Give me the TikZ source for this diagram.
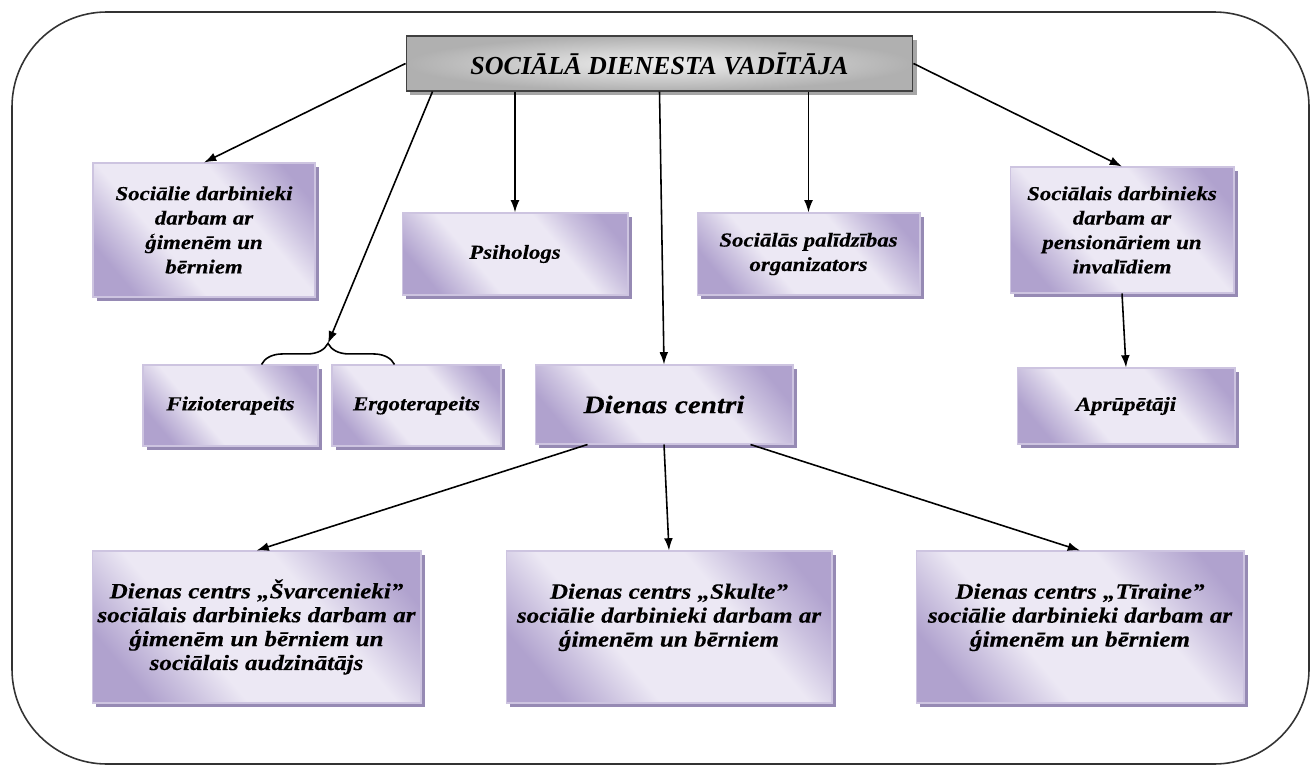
\documentclass[tikz,border=0pt]{standalone}
\usepackage{fontspec}
\setmainfont{Liberation Serif}
\newfontfamily\boxfont{Liberation Serif}[FakeStretch=1.15,FakeBold=0.3]
\usepackage{xcolor}
\usepackage{tikz}
\usetikzlibrary{calc,positioning,shadows,arrows.meta}
\usetikzlibrary{decorations.pathreplacing}

\definecolor{lilaLight}{RGB}{236,232,244}
\definecolor{lilaDark}{RGB}{176,162,206}
\definecolor{lilaBorder}{RGB}{205,196,224}
\definecolor{lilaShadow}{RGB}{150,138,180}
\colorlet{lilaMid}{lilaLight!45!lilaDark}

\pgfdeclarehorizontalshading{lilashade}{100bp}{color(0bp)=(lilaDark); color(24bp)=(lilaDark); color(31bp)=(lilaMid); color(39bp)=(lilaLight); color(62bp)=(lilaLight); color(70bp)=(lilaMid); color(78bp)=(lilaDark); color(100bp)=(lilaDark)}

\tikzset{
	box/.style={draw=lilaBorder, line width=0.6pt, inner sep=0pt, align=center,
		shading=lilashade, shading angle=40,
		drop shadow={shadow xshift=2.5pt, shadow yshift=-2.5pt, fill=lilaShadow, opacity=1},
		font=\boxfont\bfseries\itshape\fontsize{11.3}{13.9}\selectfont},
	bigbox/.style={box, font=\boxfont\bfseries\itshape\fontsize{12.4}{13.6}\selectfont},
	headbox/.style={draw=gray!50!black, line width=0.6pt, inner sep=0pt,
		inner color=gray!12, outer color=gray!62,
		drop shadow={shadow xshift=2.5pt, shadow yshift=-2.5pt, fill=gray!70, opacity=1},
		font=\bfseries\itshape\fontsize{14.8}{17}\selectfont},
	arr/.style={-{Latex[length=7pt,width=5pt]}, line width=0.9pt},
}

\begin{document}
\begin{tikzpicture}[x=0.02cm,y=-0.02cm]
	\useasboundingbox (0,0) rectangle (1314,767);
	\draw[rounded corners=54pt, line width=0.9pt, gray!40!black] (12,12) rectangle (1309,764);

	\node[headbox, minimum width=10.14cm, minimum height=1.1cm] (head) at (659.5,63.5) {SOCIĀLĀ DIENESTA VADĪTĀJA};

	\node[box, minimum width=4.44cm, minimum height=2.68cm] (soc) at (204,230) {Sociālie darbinieki\\ darbam ar\\ ģimenēm un\\ bērniem};
	\node[box, minimum width=4.52cm, minimum height=1.64cm] (psih) at (515,254) {Psihologs};
	\node[box, minimum width=4.46cm, minimum height=1.64cm] (org) at (808.5,254) {Sociālās palīdzības\\ organizators};
	\node[box, minimum width=4.48cm, minimum height=2.52cm] (pens) at (1122,230) {Sociālais darbinieks\\ darbam ar\\ pensionāriem un\\ invalīdiem};

	\node[box, minimum width=3.5cm, minimum height=1.62cm] (fizio) at (230.5,405.5) {Fizioterapeits};
	\node[box, minimum width=3.38cm, minimum height=1.62cm] (ergo) at (416.5,405.5) {Ergoterapeits};
	\node[box, minimum width=5.16cm, minimum height=1.58cm, font=\boxfont\bfseries\itshape\fontsize{14.4}{17}\selectfont] (dc) at (664,404.5) {Dienas centri};
	\node[box, minimum width=4.36cm, minimum height=1.52cm] (aprup) at (1126,406) {Aprūpētāji};

	\node[bigbox, minimum width=6.58cm, minimum height=3.04cm] (b1) at (256.5,627) {Dienas centrs „Švarcenieki”\\ sociālais darbinieks darbam ar\\ ģimenēm un bērniem un\\ sociālais audzinātājs};
	\node[bigbox, minimum width=6.52cm, minimum height=3.04cm] (b2) at (669,627) {Dienas centrs „Skulte”\\ sociālie darbinieki darbam ar\\ ģimenēm un bērniem\\ \mbox{}};
	\node[bigbox, minimum width=6.56cm, minimum height=3.04cm] (b3) at (1080,627) {Dienas centrs „Tīraine”\\ sociālie darbinieki darbam ar\\ ģimenēm un bērniem\\ \mbox{}};

	\coordinate (brL) at ($(fizio.north east)+(-57,0)$);
	\coordinate (brR) at ($(ergo.north west)+(63,0)$);
	\draw[line width=0.9pt, decorate, decoration={brace, amplitude=12pt}] (brL) -- (brR);
	\coordinate (brtip) at ($(brL)!0.5!(brR)+(0,-21)$);

	\draw[arr] (head.west) -- (soc.north);
	\draw[arr] ($(head.south west)+(27,0)$) -- (brtip);
	\draw[arr] (psih.north |- head.south) -- (psih.north);
	\draw[arr] (head.south) -- (dc.north);
	\draw[arr] (org.north |- head.south) -- (org.north);
	\draw[arr] (head.east) -- (pens.north);
	\draw[arr] (pens.south) -- (aprup.north);
	\draw[arr] ($(dc.south west)+(53,0)$) -- (b1.north);
	\draw[arr] (dc.south) -- (b2.north);
	\draw[arr] ($(dc.south east)+(-43,0)$) -- (b3.north);
\end{tikzpicture}
\end{document}
